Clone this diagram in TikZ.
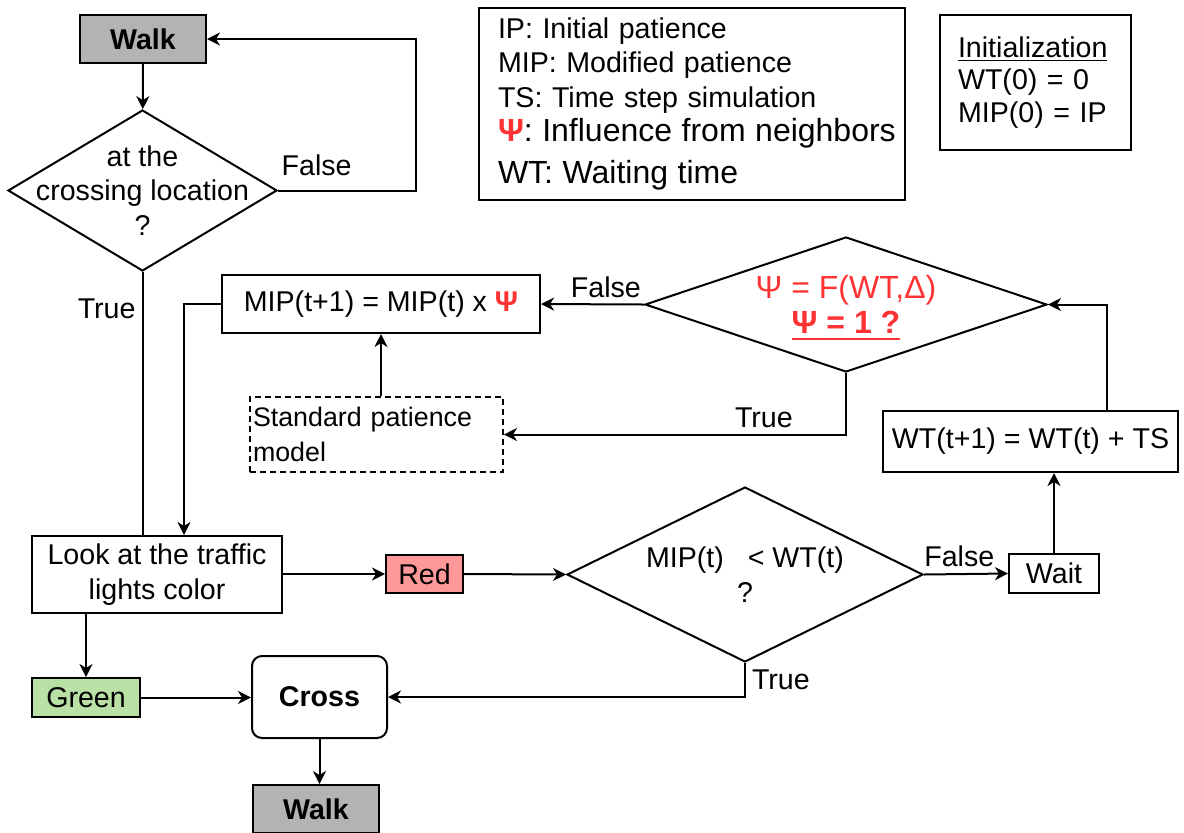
\documentclass[tikz,border=0pt]{standalone}
\usepackage{fontspec}
\setmainfont{Liberation Sans}
\usetikzlibrary{shapes.geometric,arrows.meta}
\definecolor{walkgray}{HTML}{B3B3B3}
\definecolor{redlight}{HTML}{FF9999}
\definecolor{greenlight}{HTML}{B9E0A5}
\definecolor{psired}{HTML}{FF3333}
\newcommand{\psisym}{\textcolor{psired}{\textbf{Ψ}}}
\newlength{\ulwidth}
\newcommand{\thickul}[1]{\settowidth{\ulwidth}{#1}#1\llap{\rule[-3.2pt]{\ulwidth}{1pt}}}
\begin{document}
\begin{tikzpicture}[x=0.5pt,y=-0.5pt,line width=1pt,font=\fontsize{14.3}{17.2}\selectfont]
        \tikzstyle{box}=[rectangle,draw=black,inner sep=2pt,align=center]
        \tikzstyle{walk}=[box,fill=walkgray,font=\fontsize{14.3}{17.2}\selectfont\bfseries,minimum width=63pt,minimum height=24pt]
        \tikzstyle{decision}=[diamond,draw=black,inner sep=0pt]
        \tikzstyle{edge}=[draw,-{Stealth[length=6.5pt,width=6.5pt,inset=2pt]}]
        \tikzstyle{link}=[draw]
        \tikzstyle{lbl}=[inner sep=3pt]
        \useasboundingbox (0,0) rectangle (1184,832);
        % nodes
        \node [walk] (walk1) at (143,39) {Walk};
        \node [decision,minimum width=134.5pt,minimum height=80.5pt,
               label={[align=center]center:at the\\crossing location\\?}] (atloc) at (142.5,190.5) {};
        \node [box,minimum width=213pt,minimum height=96pt,text width=194pt,inner xsep=9.5pt,align=left] (legend) at (692,104)
              {IP: Initial patience\\MIP: Modified patience\\TS: Time step simulation\\\mbox{\fontsize{16}{19}\selectfont\psisym: Influence from neighbors}\\[3.8pt]{\fontsize{16}{19}\selectfont WT: Waiting time}};
        \node [box,minimum width=95.5pt,minimum height=67.5pt,text width=77.5pt,inner xsep=9pt,align=left,font=\fontsize{14.3}{16.3}\selectfont] (init) at (1035.5,82.5)
              {\underline{Initialization}\\WT(0) = 0\\MIP(0) = IP};
        \node [box,minimum width=159pt,minimum height=29pt] (mipbox) at (381,304) {MIP(t+1) = MIP(t) x \psisym};
        \node [decision,minimum width=201pt,minimum height=67.5pt,
               label={[align=center,font=\fontsize{16}{17.5}\selectfont,yshift=-1.5pt]center:\color{psired}Ψ = F(WT,Δ)\\\color{psired}\thickul{\textbf{Ψ = 1 ?}}}] (psiq) at (846,304.5) {};
        \node [box,dashed,dash pattern=on 3pt off 2pt,minimum width=126.5pt,minimum height=37.5pt,text width=123.5pt,inner xsep=1.5pt,align=left,font=\fontsize{13.4}{17.5}\selectfont] (stdbox) at (376.5,434.5)
              {Standard patience\\model};
        \node [box,minimum width=147.5pt,minimum height=30.5pt] (wtbox) at (1030.5,441.5) {WT(t+1) = WT(t) + TS};
        \node [box,minimum width=125pt,minimum height=38.5pt] (lookbox) at (157,574.5) {Look at the traffic\\lights color};
        \node [box,fill=redlight,minimum width=38.5pt,minimum height=19pt] (redbox) at (424.5,574) {Red};
        \node [decision,minimum width=178pt,minimum height=87.5pt,
               label={[align=center]center:MIP(t)~~ < WT(t)\\?}] (mipq) at (745,574.5) {};
        \node [box,minimum width=45pt,minimum height=19.5pt] (waitbox) at (1054,573.5) {Wait};
        \node [box,fill=greenlight,minimum width=54pt,minimum height=19.5pt] (greenbox) at (86,697.5) {Green};
        \node [box,rounded corners=5pt,minimum width=67.5pt,minimum height=41pt,font=\fontsize{14.3}{17.2}\selectfont\bfseries] (crossbox) at (319.5,697) {Cross};
        \node [walk] (walk2) at (316,809) {Walk};
        % connectors
        \path[edge] (walk1) -- (atloc);
        \path[edge] (atloc.east) -- node[lbl,above=4pt,pos=0.28] {False} ++(138,0) |- (walk1.east);
        \path[link] (atloc.south) -- node[lbl,left,pos=0.14] {True} (atloc.south |- lookbox.north);
        \path[edge] (mipbox.west) -| ([xshift=13.5pt]lookbox.north);
        \path[edge] (mipbox.south |- stdbox.north) -- (mipbox.south);
        \path[edge] (psiq.west) -- node[lbl,above,pos=0.37] {False} (mipbox.east);
        \path[edge] (psiq.south) |- node[lbl,above,pos=0.62] {True} (stdbox.east);
        \path[edge] ([xshift=38pt]wtbox.north) |- (psiq.east);
        \path[edge] (waitbox) -- (waitbox |- wtbox.south);
        \path[edge] (lookbox.east |- redbox) -- (redbox.west);
        \path[edge] (redbox.east) -- (mipq.west);
        \path[edge] (mipq.east) -- node[lbl,above,pos=0.42] {False} (waitbox.west);
        \path[edge] (mipq.south) |- node[lbl,right,pos=0.25] {True} (crossbox.east);
        \path[edge] (greenbox.north |- lookbox.south) -- (greenbox.north);
        \path[edge] (greenbox.east) -- (crossbox.west |- greenbox.east);
        \path[edge] (crossbox) -- (crossbox |- walk2.north);
\end{tikzpicture}
\end{document}
